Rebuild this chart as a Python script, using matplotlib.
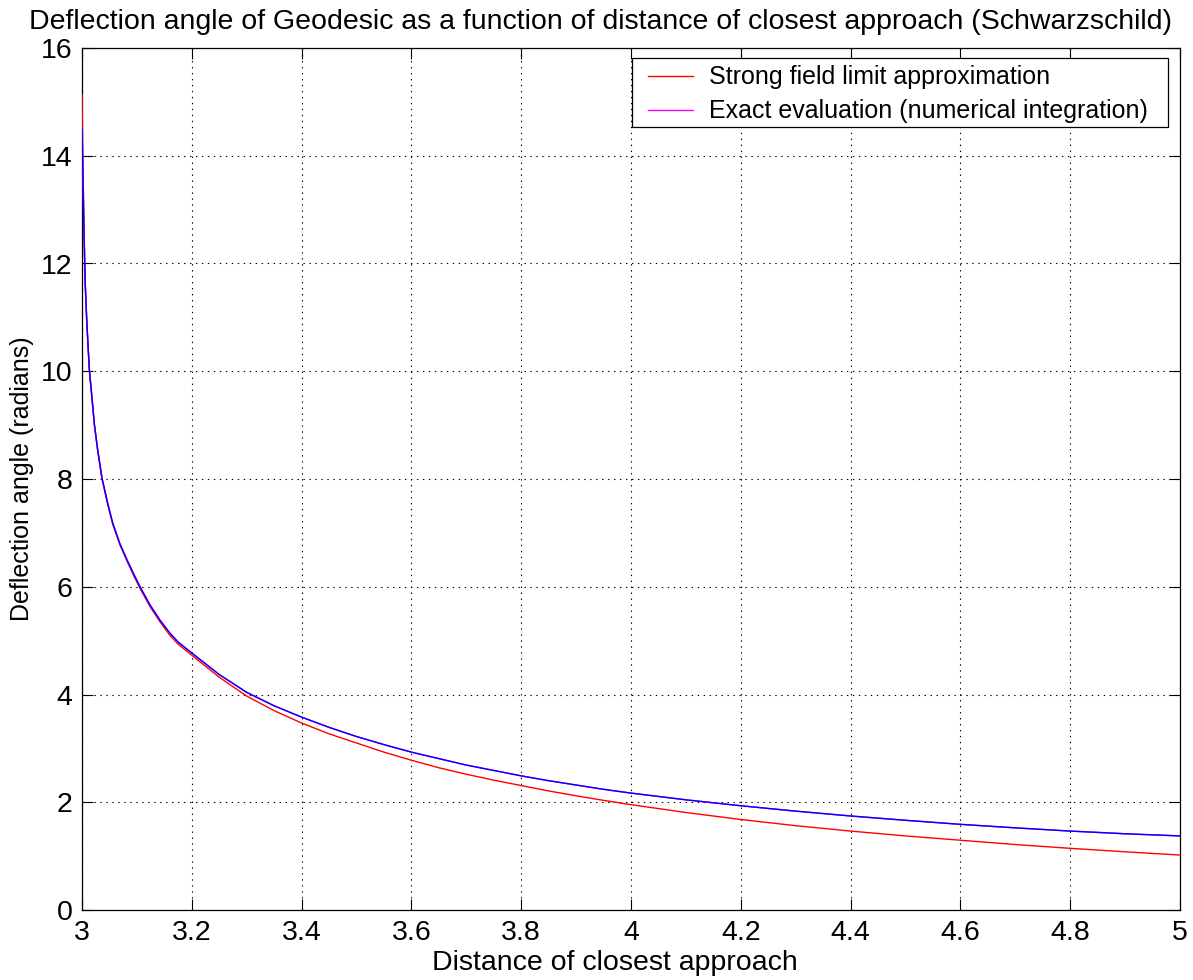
import matplotlib
matplotlib.use("Agg")
import matplotlib.pyplot as plt
from matplotlib.lines import Line2D
from matplotlib.patches import Rectangle

plt.rcParams['font.family'] = ['Liberation Sans', 'DejaVu Sans']
plt.rcParams['lines.scale_dashes'] = False

# Distance of closest approach r0 (shared by both series)
r0 = [3.0000, 3.0036, 3.0049, 3.0060, 3.0085, 3.0110, 3.0134, 3.0190, 3.0225,
      3.0286, 3.0364, 3.0470, 3.0560, 3.0690, 3.0810, 3.0935, 3.1056, 3.1240,
      3.1420, 3.1600, 3.1755, 3.2000, 3.2500, 3.3000, 3.3500, 3.4000, 3.4500,
      3.5000, 3.5500, 3.6000, 3.6500, 3.7000, 3.7500, 3.8000, 3.8500, 3.9000,
      3.9500, 4.0000, 4.1000, 4.2000, 4.3000, 4.4000, 4.5000, 4.6000, 4.7000,
      4.8000, 4.9000, 5.0000]

# Deflection angle (radians), exact evaluation by numerical integration
alpha_exact = [14.50, 12.64, 12.04, 11.60, 10.98, 10.48, 10.03, 9.42, 9.02,
               8.54, 8.02, 7.54, 7.18, 6.80, 6.52, 6.25, 6.00, 5.66,
               5.38, 5.14, 4.97, 4.77, 4.37, 4.04, 3.79, 3.58, 3.39,
               3.22, 3.07, 2.93, 2.81, 2.69, 2.59, 2.49, 2.40, 2.32,
               2.24, 2.17, 2.045, 1.935, 1.835, 1.745, 1.665, 1.59, 1.525,
               1.465, 1.415, 1.375]

# Deflection angle (radians), strong field limit approximation
alpha_strong = [15.13, 12.62, 12.02, 11.58, 10.96, 10.46, 10.01, 9.40, 9.00,
                8.52, 8.00, 7.52, 7.16, 6.78, 6.50, 6.22, 5.97, 5.63,
                5.35, 5.10, 4.93, 4.73, 4.32, 3.97, 3.70, 3.47, 3.27,
                3.10, 2.93, 2.78, 2.64, 2.52, 2.41, 2.31, 2.21, 2.12,
                2.035, 1.955, 1.81, 1.68, 1.565, 1.465, 1.375, 1.295, 1.215,
                1.145, 1.08, 1.02]

x_ticks = [3.0, 3.2, 3.4, 3.6, 3.8, 4.0, 4.2, 4.4, 4.6, 4.8, 5.0]
x_tick_labels = ["3", "3.2", "3.4", "3.6", "3.8", "4", "4.2", "4.4", "4.6", "4.8", "5"]
y_ticks = [0, 2, 4, 6, 8, 10, 12, 14, 16]
y_tick_labels = ["0", "2", "4", "6", "8", "10", "12", "14", "16"]

fig = plt.figure(figsize=(11.93, 9.80), dpi=100)
ax = fig.add_axes([82 / 1193, 70 / 980, 1098 / 1193, 862 / 980])

ax.plot(r0, alpha_strong, color="#ff0000", lw=1.0, zorder=3)
ax.plot(r0, alpha_exact, color="#ff00ff", lw=1.0, zorder=3)
ax.plot(r0, alpha_exact, color="#0000ff", lw=1.0, zorder=4)

ax.set_xlim(3, 5)
ax.set_ylim(0, 16)
ax.set_xticks(x_ticks)
ax.set_xticklabels(x_tick_labels)
ax.set_yticks(y_ticks)
ax.set_yticklabels(y_tick_labels)

ax.grid(True, color="black", linestyle=(0, (1.0, 3.3)), linewidth=0.8)
ax.tick_params(direction="in", length=8, width=0.8, top=True, right=True,
               labelsize=20.5, pad=7, colors="black")
for s in ax.spines.values():
    s.set_linewidth(0.9)
    s.set_color("black")

ax.set_title("Deflection angle of Geodesic as a function of distance of closest approach (Schwarzschild)",
             fontsize=20.5, pad=14, x=0.472)
ax.set_xlabel("Distance of closest approach", fontsize=20.5)
ax.xaxis.set_label_coords(0.485, -0.046)
ax.set_ylabel("Deflection angle (radians)", fontsize=18, labelpad=5)

# legend box with wider side margins than top/bottom
frame = Rectangle((0.5009, 0.9084), 0.4881, 0.0800, transform=ax.transAxes,
                  facecolor="white", edgecolor="black", linewidth=0.9, zorder=5)
ax.add_patch(frame)

handles = [Line2D([], [], color="#ff0000", lw=1.0),
           Line2D([], [], color="#ff00ff", lw=1.0)]
leg = ax.legend(handles, ["Strong field limit approximation",
                          "Exact evaluation (numerical integration)"],
                loc="upper left", bbox_to_anchor=(0.5155, 0.9797),
                fontsize=18, frameon=False, handlelength=1.8, handletextpad=0.64,
                borderpad=0, labelspacing=0.4, borderaxespad=0)
leg.set_zorder(6)

fig.savefig("out.png", dpi=100)
